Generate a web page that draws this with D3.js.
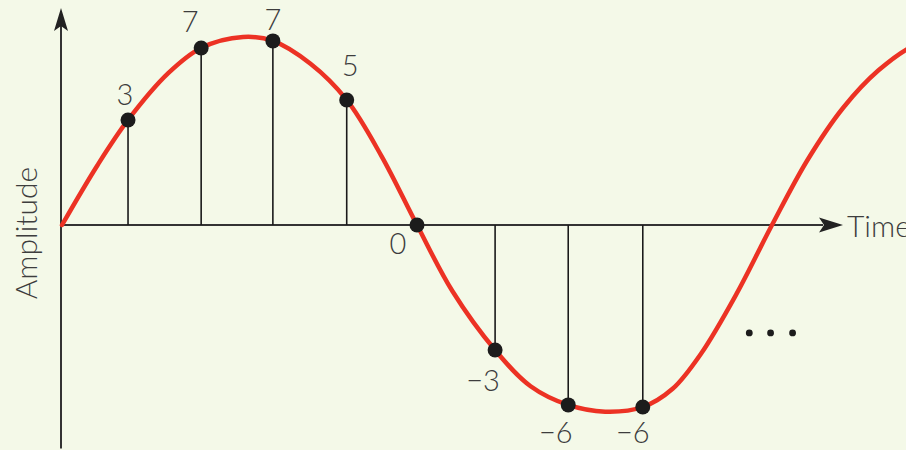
<!DOCTYPE html>
<html>
<head>
<meta charset="utf-8">
<script src="https://cdn.jsdelivr.net/npm/d3@7"></script>
<style>
  html, body { margin: 0; padding: 0; background: #f4f9e8; }
  svg { display: block; }
  text { font-family: Lato, "Open Sans", "DejaVu Sans", sans-serif; font-weight: 300; fill: #3d3d3d; }
</style>
</head>
<body>
<svg id="chart" width="906" height="450"></svg>
<script>
// ---- data (time in arbitrary units, amplitude in arbitrary units) ----
const curveTimes  = [0, 0.5, 0.93, 1.5, 1.96, 2.55, 2.97, 3.5, 4.01, 4.5, 5.0, 5.5, 6.1, 6.6, 7.13, 7.65, 8.18, 8.6, 9.0, 9.5, 10.0, 10.5, 11.0, 11.5, 12.0, 12.5];
const curveValues = [0, 2.3, 4.04, 5.85, 6.81, 7.23, 7.08, 6.2, 4.81, 2.65, 0, -2.55, -4.81, -6.2, -6.92, -7.18, -7.0, -6.3, -4.95, -2.65, 0, 2.5, 4.5, 5.95, 6.9, 7.2];
const sampleTimes  = [0.93, 1.96, 2.97, 4.01, 5.0, 6.10, 7.13, 8.18];
const sampleValues = [4.04, 6.81, 7.08, 4.81, 0, -4.81, -6.92, -7.0];
const sampleLabels = ["3", "7", "7", "5", "0", "\u22123", "\u22126", "\u22126"];
const ellipsisTimes = [9.68, 9.98, 10.29];
const ellipsisValue = -4.15;
const xAxisExtent = [0, 11.0];
const yAxisExtent = [-8.6, 8.35];
const xAxisTitle = "Time";
const yAxisTitle = "Amplitude";

// ---- layout / style (not data) ----
const labelNudges = [[-3, -15], [-11, -16], [0, -11], [3.5, -24], [-19, 29], [-12, 41], [-12.5, 38], [-10, 36]];
const W = 906, H = 450;
const svg = d3.select("#chart");
svg.append("rect").attr("width", W).attr("height", H).attr("fill", "#f4f9e8");

const x = d3.scaleLinear().domain([0, 12]).range([62, 62 + 12 * 71]);
const y = d3.scaleLinear().domain([-9, 9]).range([459, -9]);

const axisColor = "#333";
// x axis
svg.append("line")
  .attr("x1", x(xAxisExtent[0]) - 1).attr("x2", x(xAxisExtent[1]) - 20)
  .attr("y1", y(0)).attr("y2", y(0))
  .attr("stroke", axisColor).attr("stroke-width", 2);
const xt = x(xAxisExtent[1]);
svg.append("path")
  .attr("d", `M${xt},${y(0)} L${xt - 24},${y(0) - 7.5} L${xt - 19},${y(0)} L${xt - 24},${y(0) + 7.5} Z`)
  .attr("fill", "#222");
// y axis
svg.append("line")
  .attr("x1", x(0) - 1).attr("x2", x(0) - 1)
  .attr("y1", y(yAxisExtent[0])).attr("y2", y(yAxisExtent[1]) + 18)
  .attr("stroke", axisColor).attr("stroke-width", 2);
const yt = y(yAxisExtent[1]), ax = x(0) - 1;
svg.append("path")
  .attr("d", `M${ax},${yt} L${ax - 7},${yt + 23} L${ax},${yt + 18} L${ax + 7},${yt + 23} Z`)
  .attr("fill", "#222");

// axis titles
svg.append("text")
  .attr("x", xt + 4).attr("y", y(0) + 12)
  .attr("font-size", 30)
  .text(xAxisTitle);
svg.append("text")
  .attr("transform", `translate(37,${y(0) + 8}) rotate(-90)`)
  .attr("text-anchor", "middle")
  .attr("font-size", 30)
  .text(yAxisTitle);

// stems
const samples = sampleTimes.map((t, i) => ({ t, v: sampleValues[i], label: sampleLabels[i], nudge: labelNudges[i] }));
svg.append("g").selectAll("line").data(samples).join("line")
  .attr("x1", d => x(d.t)).attr("x2", d => x(d.t))
  .attr("y1", y(0)).attr("y2", d => y(d.v))
  .attr("stroke", "#1a1a1a").attr("stroke-width", 1.6);

// curve
const pts = curveTimes.map((t, i) => [t, curveValues[i]]);
svg.append("path")
  .datum(pts)
  .attr("d", d3.line().x(d => x(d[0])).y(d => y(d[1])).curve(d3.curveCatmullRom.alpha(0.5)))
  .attr("fill", "none")
  .attr("stroke", "#ec3224")
  .attr("stroke-width", 4.5)
  .attr("stroke-linecap", "round");

// dots
svg.append("g").selectAll("circle").data(samples).join("circle")
  .attr("cx", d => x(d.t)).attr("cy", d => y(d.v))
  .attr("r", 7.5).attr("fill", "#1c1c1c");

// labels
svg.append("g").selectAll("text").data(samples).join("text")
  .attr("x", d => x(d.t) + d.nudge[0]).attr("y", d => y(d.v) + d.nudge[1])
  .attr("text-anchor", "middle")
  .attr("font-size", 29)
  .text(d => d.label);

// ellipsis
svg.append("g").selectAll("circle").data(ellipsisTimes).join("circle")
  .attr("cx", d => x(d)).attr("cy", y(ellipsisValue))
  .attr("r", 3.4).attr("fill", "#1c1c1c");
</script>
</body>
</html>
